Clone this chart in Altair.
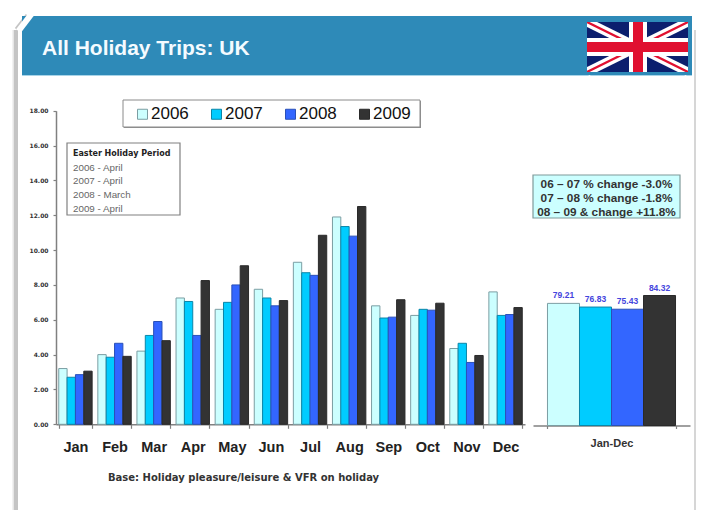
import altair as alt
import pandas as pd

months = ["Jan","Feb","Mar","Apr","May","Jun","Jul","Aug","Sep","Oct","Nov","Dec"]
years = ["2006","2007","2008","2009"]
v2006 = [3.2,4.0,4.2,7.25,6.6,7.75,9.3,11.9,6.8,6.25,4.35,7.6]
v2007 = [2.7,3.85,5.1,7.05,7.0,7.25,8.7,11.35,6.1,6.6,4.65,6.25]
v2008 = [2.85,4.65,5.9,5.1,8.0,6.8,8.55,10.8,6.15,6.55,3.55,6.3]
v2009 = [3.05,3.9,4.8,8.25,9.1,7.1,10.85,12.5,7.15,6.95,3.95,6.7]
totals = [79.21,76.83,75.43,84.32]
total_labels = ["79.21","76.83","75.43","84.32"]
fills = ["#ccffff","#00ccff","#3366ff","#333333"]
strokes = ["#7b9ea3","#0b86a8","#2a50b8","#2a2a2a"]
title_text = "All Holiday Trips: UK"
base_text = "Base:  Holiday pleasure/leisure & VFR on holiday"
easter_head = "Easter Holiday Period"
easter_rows = ["2006 - April","2007 - April","2008 - March","2009 - April"]
change_rows = ["06 – 07 % change -3.0%","07 – 08 % change -1.8%","08 – 09 & change +11.8%"]

F = "Liberation Sans"
F2 = "DejaVu Sans"
W, H = 688, 502
O = 8  # page margin: helpers below take screen pixels

one = alt.Data(values=[{"k": 1}])

def rect(x0, y0, x1, y1, fill, stroke=None, sw=1, opacity=1):
    kw = dict(fill=fill, opacity=opacity)
    if stroke:
        kw.update(stroke=stroke, strokeWidth=sw)
    return alt.Chart(one).mark_rect(**kw).encode(
        x=alt.value(x0 - O), x2=alt.value(x1 - O), y=alt.value(y0 - O), y2=alt.value(y1 - O))

def seg(x0, y0, x1, y1, color, sw):
    return alt.Chart(one).mark_rule(color=color, strokeWidth=sw).encode(
        x=alt.value(x0 - O), x2=alt.value(x1 - O), y=alt.value(y0 - O), y2=alt.value(y1 - O))

def txt(s, x, y, size, color, bold=False, align="left", font=F):
    return alt.Chart(alt.Data(values=[{"t": s}])).mark_text(
        font=font, fontSize=size, color=color, fontWeight="bold" if bold else "normal",
        align=align, baseline="middle").encode(
        text="t:N", x=alt.value(x - O), y=alt.value(y - O))

rows = [{"month": m, "year": y, "value": v}
        for y, vals in zip(years, [v2006, v2007, v2008, v2009])
        for m, v in zip(months, vals)]
df = pd.DataFrame(rows)
tot = pd.DataFrame({"period": ["Jan-Dec"] * 4, "year": years, "value": totals, "label": total_labels})

legend = alt.Legend(
    title=None, orient="none", legendX=122 - O, legendY=101.5 - O, direction="horizontal",
    columns=4, symbolType="square", symbolSize=100, symbolStrokeWidth=1,
    labelFont=F, labelFontSize=17, labelColor="#111111", labelLimit=80,
    columnPadding=11, padding=4, symbolOffset=8, labelOffset=0)
color_enc = alt.Color("year:N", scale=alt.Scale(domain=years, range=fills), legend=legend)
stroke_enc = alt.Stroke("year:N", scale=alt.Scale(domain=years, range=strokes), legend=legend)

x_month = alt.X("month:N", sort=months, title=None,
    scale=alt.Scale(domain=months, range=[56 - O, 525 - O], paddingInner=0.146, paddingOuter=0.07),
    axis=alt.Axis(orient="bottom", offset=424.3 - O - H, labelAngle=0, labelFont=F, labelFontSize=14.5, labelFontWeight="bold",
                  labelColor="#222222", labelPadding=12, tickBand="extent", tickSize=4, tickColor="#808080",
                  domainColor="#808080", domainWidth=1.5, tickWidth=1.2, grid=False))
y_month = alt.Y("value:Q", title=None,
    scale=alt.Scale(domain=[0, 18], range=[424.3 - O, 110.7 - O], nice=False),
    axis=alt.Axis(orient="left", offset=-(56 - O), values=list(range(0, 19, 2)), format=".2f", labelFont=F2, labelFontSize=6,
                  labelFontWeight="bold", labelColor="#333333", tickSize=3, tickColor="#808080",
                  domainColor="#808080", domainWidth=1.5, tickWidth=1.2, labelPadding=5, grid=False))
bars = alt.Chart(df).mark_bar(strokeWidth=1).encode(
    x=x_month, y=y_month,
    xOffset=alt.XOffset("year:N", sort=years, scale=alt.Scale(domain=years)),
    color=color_enc, stroke=stroke_enc)

panel_x = alt.Scale(domain=["Jan-Dec"], range=[533 - O, 690 - O], paddingInner=0, paddingOuter=0.113)
panel_y = alt.Scale(domain=[0, 84.32], range=[425.5 - O, 295.5 - O], nice=False)
panel_off = alt.XOffset("year:N", sort=years, scale=alt.Scale(domain=years))
panel = alt.Chart(tot).mark_bar(strokeWidth=1).encode(
    x=alt.X("period:N", title=None, scale=panel_x,
            axis=alt.Axis(orient="bottom", offset=425.5 - O - H, labelAngle=0, labelFont=F, labelFontSize=11, labelFontWeight="bold",
                          labelColor="#333333", labelPadding=9, tickBand="extent", tickSize=3, tickColor="#808080",
                          domainColor="#808080", domainWidth=1.5, tickWidth=1.2, grid=False)),
    y=alt.Y("value:Q", title=None, scale=panel_y, axis=None),
    xOffset=panel_off, color=color_enc, stroke=stroke_enc)
panel_labels = alt.Chart(tot).mark_text(
    font=F, fontSize=8.5, fontWeight="bold", color="#4444dd", baseline="bottom", dy=-3).encode(
    x=alt.X("period:N", title=None, scale=panel_x, axis=None),
    y=alt.Y("value:Q", title=None, scale=panel_y, axis=None),
    xOffset=panel_off, text="label:N")

# page furniture
BLUE = "#2e8ab8"
decor = [
    rect(14, 30, 18, 518, "#c4c4c4"),
    rect(12.5, 30, 14, 518, "#e6e6e6"),
    rect(694, 30, 696, 518, "#d6d6d6"),
    seg(16, 29, 27, 15, "#c4c4c4", 3),
    rect(22, 16, 692, 75, BLUE),
    seg(18.5, 31, 33, 12, "#ffffff", 6),
    rect(22, 75, 692, 76, "#a8d4e8"),
    txt(title_text, 42, 48.5, 21, "#f4fbff", bold=True),
    rect(124, 101, 421, 128, "#909090"),
    rect(123, 100, 420, 127, "#ffffff", "#8a8a8a", 1),
]
fx0, fy0, fx1, fy1 = 587, 22, 688, 72
flag = [
    rect(fx0, fy0, fx1, fy1, "#0b1f6e"),
    seg(fx0, fy0, fx1, fy1, "#ffffff", 9),
    seg(fx0, fy1, fx1, fy0, "#ffffff", 9),
    seg(fx0, fy0, fx1, fy1, "#e01030", 2.5),
    seg(fx0, fy1, fx1, fy0, "#e01030", 2.5),
    rect(fx0 - 8, fy0 - 6, fx0, fy1 + 3, BLUE),
    rect(fx1, fy0 - 6, fx1 + 4, fy1 + 3, BLUE),
    rect(fx0 - 8, fy0 - 6, fx1 + 4, fy0, BLUE),
    rect(fx0 - 8, fy1, fx1 + 4, fy1 + 3, BLUE),
    rect(629, fy0, 647, fy1, "#ffffff"),
    rect(fx0, 38, fx1, 56, "#ffffff"),
    rect(633, fy0, 643, fy1, "#e01030"),
    rect(fx0, 42, fx1, 52, "#e01030"),
]
easter = [
    rect(67, 143, 180, 215, "#ffffff", "#808080", 1.2),
    txt(easter_head, 73, 153.5, 8, "#222222", bold=True, font=F2),
] + [txt(s, 73, y, 9.8, "#666666") for s, y in zip(easter_rows, [168, 181, 195, 209])]
change = [
    rect(533, 175, 680, 218, "#ccffff", "#7f9a9a", 1.2),
] + [txt(s, 606.5, y, 11.8, "#333333", bold=True, align="center") for s, y in zip(change_rows, [183.5, 197.5, 211.5])]
base = [txt(base_text, 108, 478, 10, "#333333", bold=True, font=F2)]

chart = alt.layer(*decor, *flag, bars, panel, panel_labels, *easter, *change, *base).resolve_scale(
    x="independent", y="independent", xOffset="independent"
).properties(
    width=W, height=H, padding=0, autosize=alt.AutoSizeParams(type="none"), background="#ffffff"
).configure_view(stroke=None)

chart.save("out.html", embed_options={"renderer": "svg", "actions": False})
